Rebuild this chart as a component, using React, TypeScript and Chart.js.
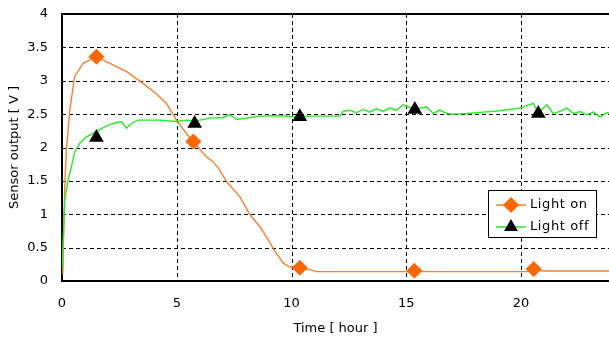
import React, { useEffect, useRef } from 'react';
import { Chart, registerables } from 'chart.js';

Chart.register(...registerables);

const lightOnTimes = [0, 0.04, 0.12, 0.19, 0.34, 0.55, 0.92, 1.5, 2.08, 2.8, 3.53, 4.1, 4.55, 4.99, 5.42, 5.71, 6.29, 6.6, 6.87, 7.17, 7.75, 8.18, 8.6, 8.91, 9.2, 9.63, 9.93, 10.36, 10.8, 11.09, 15.4, 20.3, 20.6, 21.0, 23.83];
const lightOnValues = [0.12, 0.35, 1.4, 1.96, 2.56, 3.06, 3.26, 3.36, 3.26, 3.14, 2.96, 2.81, 2.66, 2.41, 2.21, 2.09, 1.86, 1.78, 1.66, 1.49, 1.26, 1.0, 0.82, 0.66, 0.49, 0.27, 0.21, 0.2, 0.17, 0.14, 0.14, 0.14, 0.17, 0.15, 0.15];

const lightOffTimes = [0, 0.04, 0.12, 0.26, 0.41, 0.55, 0.77, 1.06, 1.3, 1.86, 2.22, 2.59, 2.81, 3.02, 3.31, 4.26, 4.98, 5.42, 5.78, 6.0, 6.44, 7.0, 7.31, 7.6, 8.62, 9.49, 10.0, 10.36, 10.8, 12.1, 12.25, 12.54, 12.83, 13.12, 13.41, 13.71, 13.99, 14.28, 14.58, 14.86, 15.37, 15.88, 16.17, 16.46, 16.76, 17.04, 17.63, 18.35, 19.08, 19.95, 20.53, 20.75, 21.12, 21.4, 21.7, 21.99, 22.28, 22.57, 22.86, 23.15, 23.44, 23.73, 23.83];
const lightOffValues = [0.2, 0.46, 1.21, 1.51, 1.71, 1.93, 2.06, 2.16, 2.2, 2.31, 2.36, 2.39, 2.29, 2.36, 2.41, 2.41, 2.39, 2.41, 2.4, 2.41, 2.44, 2.45, 2.49, 2.42, 2.47, 2.48, 2.46, 2.46, 2.47, 2.47, 2.54, 2.56, 2.52, 2.57, 2.53, 2.58, 2.54, 2.59, 2.56, 2.64, 2.57, 2.61, 2.51, 2.56, 2.51, 2.5, 2.51, 2.53, 2.55, 2.59, 2.66, 2.52, 2.64, 2.51, 2.54, 2.59, 2.51, 2.54, 2.49, 2.53, 2.46, 2.52, 2.52];

const onMarkerTimes = [1.5, 5.72, 10.36, 15.35, 20.55];
const onMarkerValues = [3.36, 2.09, 0.2, 0.155, 0.18];
const offMarkerTimes = [1.5, 5.78, 10.36, 15.37, 20.75];
const offMarkerValues = [2.15, 2.36, 2.46, 2.57, 2.51];

const xTickValues = [0, 5, 10, 15, 20];
const xMax = 23.83;
const yMax = 4;
const seriesLabels = ['Light on', 'Light off'];
const xTitle = 'Time [ hour ]';
const yTitle = 'Sensor output [ V ]';

const ORANGE_LINE = '#FF7F2A';
const ORANGE_MARK = '#FF6600';
const GREEN = '#22EE22';
const FONT = "'DejaVu Sans', sans-serif";

function pts(xs: number[], ys: number[]) {
  return xs.map((x, i) => ({ x, y: ys[i] }));
}

function drawDiamond(ctx: CanvasRenderingContext2D, x: number, y: number, r: number) {
  ctx.beginPath();
  ctx.moveTo(x, y - r);
  ctx.lineTo(x + r, y);
  ctx.lineTo(x, y + r);
  ctx.lineTo(x - r, y);
  ctx.closePath();
  ctx.fillStyle = ORANGE_MARK;
  ctx.fill();
}

function drawTriangle(ctx: CanvasRenderingContext2D, x: number, y: number, r: number) {
  ctx.beginPath();
  ctx.moveTo(x, y - r);
  ctx.lineTo(x + r * 0.866, y + r * 0.5);
  ctx.lineTo(x - r * 0.866, y + r * 0.5);
  ctx.closePath();
  ctx.fillStyle = '#000';
  ctx.fill();
}

const dashedGridPlugin = {
  id: 'dashedGrid',
  beforeDatasetsDraw(chart: any) {
    const { ctx, chartArea } = chart;
    const sx = chart.scales.x;
    const sy = chart.scales.y;
    ctx.save();
    ctx.strokeStyle = '#000';
    ctx.lineWidth = 1;
    ctx.setLineDash([4, 3]);
    sx.ticks.forEach((t: any) => {
      const px = Math.round(sx.getPixelForValue(t.value)) + 0.5;
      if (px <= chartArea.left + 1) return;
      ctx.beginPath();
      ctx.moveTo(px, chartArea.top);
      ctx.lineTo(px, chartArea.bottom);
      ctx.stroke();
    });
    sy.ticks.forEach((t: any) => {
      const py = Math.round(sy.getPixelForValue(t.value)) + 0.5;
      if (py >= chartArea.bottom - 1 || py <= chartArea.top + 1) return;
      ctx.beginPath();
      ctx.moveTo(chartArea.left, py);
      ctx.lineTo(chartArea.right, py);
      ctx.stroke();
    });
    ctx.restore();
  },
};

const framePlugin = {
  id: 'frameAndLegend',
  afterDraw(chart: any) {
    const { ctx, chartArea } = chart;
    ctx.save();
    ctx.strokeStyle = '#000';
    ctx.lineWidth = 2;
    ctx.beginPath();
    ctx.moveTo(chartArea.left - 1, chartArea.top);
    ctx.lineTo(chartArea.right, chartArea.top);
    ctx.stroke();

    const x0 = Math.round(chartArea.right - 121);
    const y0 = Math.round(chartArea.top + 176);
    const w = 108;
    const h = 47;
    ctx.fillStyle = '#fff';
    ctx.fillRect(x0, y0, w, h);
    ctx.lineWidth = 1;
    ctx.strokeStyle = '#000';
    ctx.strokeRect(x0 + 0.5, y0 + 0.5, w, h);

    const rows = [y0 + 15, y0 + 37];
    ctx.strokeStyle = ORANGE_LINE;
    ctx.lineWidth = 1.5;
    ctx.beginPath();
    ctx.moveTo(x0 + 8, rows[0]);
    ctx.lineTo(x0 + 38, rows[0]);
    ctx.stroke();
    drawDiamond(ctx, x0 + 23, rows[0], 8);
    ctx.strokeStyle = GREEN;
    ctx.beginPath();
    ctx.moveTo(x0 + 8, rows[1]);
    ctx.lineTo(x0 + 38, rows[1]);
    ctx.stroke();
    drawTriangle(ctx, x0 + 23, rows[1], 8);

    ctx.fillStyle = '#000';
    ctx.font = `13px ${FONT}`;
    (ctx as any).letterSpacing = '0.6px';
    ctx.textBaseline = 'middle';
    ctx.textAlign = 'left';
    ctx.fillText(seriesLabels[0], x0 + 42, rows[0]);
    ctx.fillText(seriesLabels[1], x0 + 42, rows[1]);
    ctx.restore();
  },
};

export default function App() {
  const canvasRef = useRef<HTMLCanvasElement | null>(null);

  useEffect(() => {
    const canvas = canvasRef.current;
    if (!canvas) return;
    const chart = new Chart(canvas, {
      type: 'scatter',
      data: {
        datasets: [
          {
            label: seriesLabels[0],
            data: pts(lightOnTimes, lightOnValues),
            showLine: true,
            borderColor: ORANGE_LINE,
            borderWidth: 1.4,
            pointRadius: 0,
            tension: 0,
            order: 3,
          },
          {
            label: seriesLabels[1],
            data: pts(lightOffTimes, lightOffValues),
            showLine: true,
            borderColor: GREEN,
            borderWidth: 1.4,
            pointRadius: 0,
            tension: 0,
            order: 2,
          },
          {
            label: seriesLabels[0] + ' markers',
            data: pts(onMarkerTimes, onMarkerValues),
            showLine: false,
            pointStyle: 'rectRot',
            pointRadius: 8,
            backgroundColor: ORANGE_MARK,
            borderColor: ORANGE_MARK,
            borderWidth: 0,
            order: 1,
          },
          {
            label: seriesLabels[1] + ' markers',
            data: pts(offMarkerTimes, offMarkerValues),
            showLine: false,
            pointStyle: 'triangle',
            pointRadius: 8.5,
            backgroundColor: '#000',
            borderColor: '#000',
            borderWidth: 0,
            order: 0,
          },
        ],
      },
      options: {
        responsive: false,
        animation: false,
        layout: { autoPadding: false, padding: { top: 14, right: 0, left: 0, bottom: 0 } },
        plugins: {
          legend: { display: false },
          tooltip: { enabled: false },
        },
        scales: {
          x: {
            type: 'linear',
            min: 0,
            max: xMax,
            afterBuildTicks: (scale: any) => {
              scale.ticks = xTickValues.map((v) => ({ value: v }));
            },
            afterFit: (scale: any) => {
              scale.height = 57;
              scale.paddingLeft = 0;
              scale.paddingRight = 0;
            },
            grid: { display: false, drawTicks: false },
            border: { display: true, color: '#000', width: 2 },
            ticks: {
              color: '#000',
              font: { family: FONT, size: 13 },
              padding: 15,
              maxRotation: 0,
              callback: (v: any) => String(+v),
            },
            title: {
              display: true,
              text: xTitle,
              color: '#000',
              font: { family: FONT, size: 13 },
              padding: { top: 0, bottom: 2 },
            },
          },
          y: {
            type: 'linear',
            min: 0,
            max: yMax,
            ticks: {
              stepSize: 0.5,
              color: '#000',
              font: { family: FONT, size: 13 },
              padding: 14,
              callback: (v: any) => String(+v),
            },
            afterFit: (scale: any) => {
              scale.width = 62;
              scale.paddingTop = 0;
              scale.paddingBottom = 0;
            },
            grid: { display: false, drawTicks: false },
            border: { display: true, color: '#000', width: 2 },
            title: {
              display: true,
              text: yTitle,
              color: '#000',
              font: { family: FONT, size: 13 },
              padding: { top: 7, bottom: 0 },
            },
          },
        },
      },
      plugins: [dashedGridPlugin, framePlugin],
    } as any);

    return () => chart.destroy();
  }, []);

  return (
    <div style={{ position: 'fixed', left: 0, top: 0, width: 609, height: 338, background: '#fff' }}>
      <canvas ref={canvasRef} width={609} height={338} style={{ display: 'block' }} />
    </div>
  );
}
